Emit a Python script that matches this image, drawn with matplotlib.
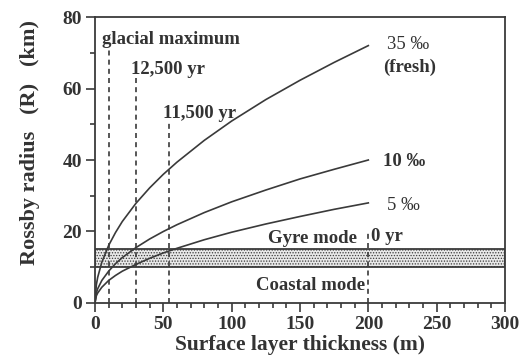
import matplotlib.pyplot as plt
import matplotlib as mpl

plt.rcParams["font.family"] = ["Liberation Serif", "DejaVu Serif"]
mpl.rcParams["hatch.color"] = "#a0a0a0"
mpl.rcParams["hatch.linewidth"] = 0.6

# surface layer thickness (m) and Rossby radius (km)
THICKNESS = [0, 1, 2, 5, 10, 15, 20, 30, 40, 50, 60, 80, 100, 125, 150, 175, 200]
R_35 = [0, 5.1, 7.2, 11.4, 16.1, 19.7, 22.8, 27.9, 32.2, 36.0, 39.4, 45.5, 50.9, 56.9, 62.3, 67.3, 72.0]
R_10 = [0, 2.8, 4.0, 6.3, 8.9, 11.0, 12.7, 15.5, 17.9, 20.0, 21.9, 25.3, 28.3, 31.6, 34.7, 37.4, 40.0]
R_5 = [0, 2.0, 2.8, 4.4, 6.3, 7.7, 8.9, 10.8, 12.5, 14.0, 15.3, 17.7, 19.8, 22.1, 24.2, 26.2, 28.0]

# vertical markers: thickness, top of dashed line
MARKER_X = [10, 30, 54, 200]
MARKER_TOP = [71, 63, 51, 20.5]

BAND = (10, 15)  # gyre / coastal mode band (km)

LINE = "#3a3a3a"
TXT = "#333333"


def main():
    fig = plt.figure(figsize=(5.19, 3.62), dpi=100)
    ax = fig.add_axes([0.183, 0.163, 0.79, 0.79])

    ax.fill_between([0, 300], BAND[0], BAND[1], facecolor="#e8e8e8",
                    edgecolor=LINE, hatch="......", linewidth=1.3, zorder=1)

    for r in (R_35, R_10, R_5):
        ax.plot(THICKNESS, r, color=LINE, lw=1.2, zorder=3)

    for x, top in zip(MARKER_X, MARKER_TOP):
        ax.plot([x, x], [0, top], color=LINE, lw=1.2, ls=(0, (3, 2.5)), zorder=2)

    bold = dict(fontweight="bold", color=TXT, fontsize=13.5)
    ax.text(5.5, 73.6, "glacial maximum", va="center", **bold)
    ax.text(26.5, 65.2, "12,500 yr", va="center", **bold)
    ax.text(50, 53, "11,500 yr", va="center", **bold)
    ax.text(214, 72.2, "35 ‰", va="center", color=TXT, fontsize=13.5)
    ax.text(211, 66, "(fresh)", va="center", **bold)
    ax.text(210.5, 39.5, "10 ‰", va="center", **bold)
    ax.text(213.5, 27.4, "5 ‰", va="center", color=TXT, fontsize=13.5)
    ax.text(192, 18, "Gyre mode", va="center", ha="right", **bold)
    ax.text(202, 18.7, "0 yr", va="center", **bold)
    ax.text(198, 5, "Coastal mode", va="center", ha="right", **bold)

    ax.set_xlim(0, 300)
    ax.set_ylim(0, 80)
    ax.set_xticks([0, 50, 100, 150, 200, 250, 300])
    ax.set_xticks(range(0, 301, 10), minor=True)
    ax.set_yticks([0, 20, 40, 60, 80])
    ax.set_yticks([10, 30, 50, 70], minor=True)
    ax.tick_params(which="both", direction="out", color=LINE, width=1.2,
                   labelsize=14, labelcolor=TXT)
    ax.tick_params(which="major", length=6.5, pad=3)
    ax.tick_params(which="minor", length=3.5)
    for lab in ax.get_xticklabels() + ax.get_yticklabels():
        lab.set_fontweight("bold")
    for s in ax.spines.values():
        s.set_color(LINE)
        s.set_linewidth(1.3)

    ax.set_xlabel("Surface layer thickness (m)", fontsize=15.5, fontweight="bold",
                  color=TXT, labelpad=1)
    ax.set_ylabel("Rossby radius   (R)   (km)", fontsize=16, fontweight="bold",
                  color=TXT, labelpad=6)
    ax.yaxis.set_label_coords(-0.135, 0.56)

    fig.savefig("out.png", dpi=100)
    plt.close(fig)


if __name__ == "__main__":
    main()
